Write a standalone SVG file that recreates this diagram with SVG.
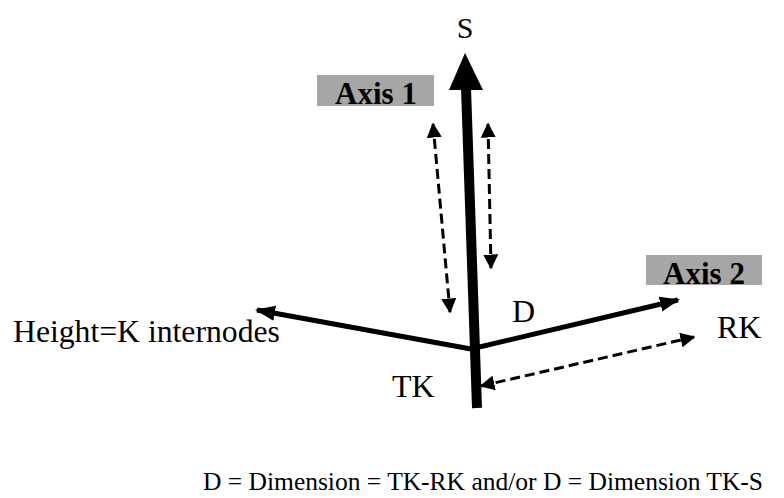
<svg xmlns="http://www.w3.org/2000/svg" width="784" height="498" viewBox="0 0 784 498">
  <style>
    .lbl { font-family: "Liberation Serif", "Times New Roman", serif; font-size: 30px; fill: #000; }
    .axis { font-family: "Liberation Serif", "Times New Roman", serif; font-size: 31px; font-weight: bold; fill: #000; }
    .tag { fill: #a6a6a6; }
    .solid { stroke: #000; fill: none; stroke-linecap: butt; }
    .dash { stroke: #000; fill: none; stroke-width: 3; stroke-dasharray: 10 5; }
  </style>
  <defs>
    <marker id="head" viewBox="0 0 10 10" refX="9" refY="5" markerWidth="4" markerHeight="4" orient="auto-start-reverse" markerUnits="strokeWidth">
      <path d="M0,1.2 L10,5 L0,8.8 Z" fill="#000"/>
    </marker>
    <marker id="dhead" viewBox="0 0 10 10" refX="9" refY="5" markerWidth="5" markerHeight="5" orient="auto-start-reverse" markerUnits="strokeWidth">
      <path d="M0,0 L10,5 L0,10 Z" fill="#000"/>
    </marker>
  </defs>

  <!-- connectors: stem, branches and measure arrows -->
  <g id="connectors">
    <!-- main stem TK to S -->
    <line class="solid" x1="477" y1="408" x2="466" y2="88" stroke-width="10"/>
    <polygon points="465,53 483,90 449,90" fill="#000"/>
    <!-- branch to the left -->
    <line class="solid" x1="471" y1="349" x2="257" y2="310" stroke-width="5" marker-end="url(#head)"/>
    <!-- branch to the right (Axis 2) -->
    <line class="solid" x1="471" y1="349" x2="678" y2="300" stroke-width="5" marker-end="url(#head)"/>
    <!-- dashed dimension arrows -->
    <line class="dash" x1="433" y1="124" x2="450" y2="312" marker-start="url(#dhead)" marker-end="url(#dhead)"/>
    <line class="dash" x1="488" y1="124" x2="491" y2="268" marker-start="url(#dhead)" marker-end="url(#dhead)"/>
    <line class="dash" x1="481" y1="386" x2="694" y2="337" marker-start="url(#dhead)" marker-end="url(#dhead)"/>
  </g>

  <g id="axis1">
    <rect class="tag" x="317" y="75" width="117" height="31"/>
    <text class="axis" x="376" y="104" text-anchor="middle">Axis 1</text>
  </g>
  <g id="axis2">
    <rect class="tag" x="646" y="255" width="116" height="30"/>
    <text class="axis" x="704" y="284" text-anchor="middle">Axis 2</text>
  </g>
  <g id="s"><text class="lbl" x="465" y="38" text-anchor="middle" style="font-size:30px">S</text></g>
  <g id="d"><text class="lbl" x="512" y="322" style="font-size:32px">D</text></g>
  <g id="rk"><text class="lbl" x="717" y="338" style="font-size:32px">RK</text></g>
  <g id="tk"><text class="lbl" x="392" y="397" style="font-size:32px">TK</text></g>
  <g id="height"><text class="lbl" x="13" y="342" style="font-size:31.7px">Height=K internodes</text></g>
  <g id="legend"><text class="lbl" x="203" y="490" style="font-size:25.5px">D = Dimension = TK-RK and/or D = Dimension TK-S</text></g>
</svg>
